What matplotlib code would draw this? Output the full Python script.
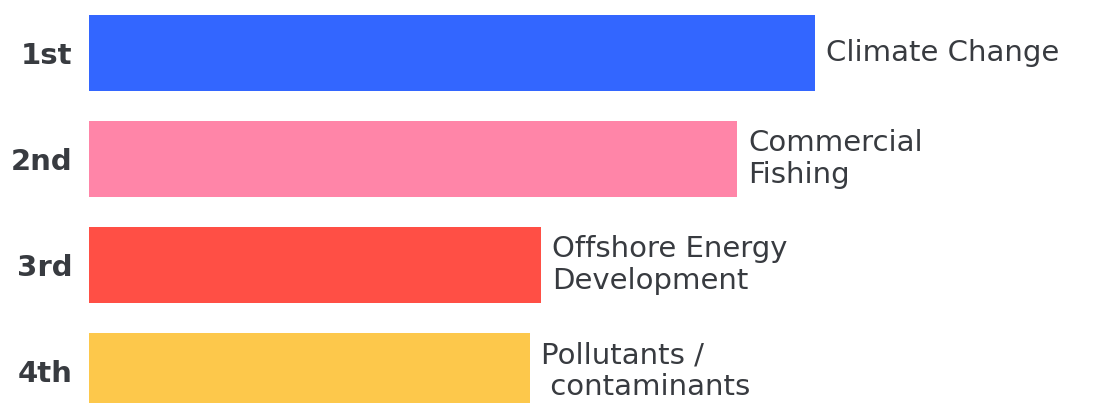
import numpy as np
import matplotlib
matplotlib.use('Agg')
import matplotlib.pyplot as plt

ranks = ['1st', '2nd', '3rd', '4th']
threats = ['Climate Change', 'Commercial\nFishing', 'Offshore Energy\nDevelopment', 'Pollutants /\n contaminants']
scores = [72.6, 64.8, 45.2, 44.1]
colors = ['#3366FF', '#FF85A8', '#FF4F45', '#FDC84B']

textColor = '#383b40'

fig = plt.figure(figsize=(10.97, 4.03), dpi=100)
ax = fig.add_axes([89 / 1097, 0, 1 - 89 / 1097, 1])

pos = np.arange(len(ranks))
ax.barh(pos, scores, height=0.717, color=colors, align='center')
ax.set_xlim(0, 100.8)
ax.set_ylim(3.302, -0.5)

ax.set_yticks(pos)
ax.set_yticklabels(ranks, fontsize=21, fontweight='semibold', color=textColor)
ax.tick_params(axis='y', length=0, pad=12)
ax.set_xticks([])
for s in ax.spines.values():
    s.set_visible(False)

for i in range(len(ranks)):
    ax.text(scores[i] + 1.1, pos[i], threats[i], fontsize=21, color=textColor,
            va='center', ha='left', linespacing=1.15)

fig.savefig('out.png', dpi=100)
